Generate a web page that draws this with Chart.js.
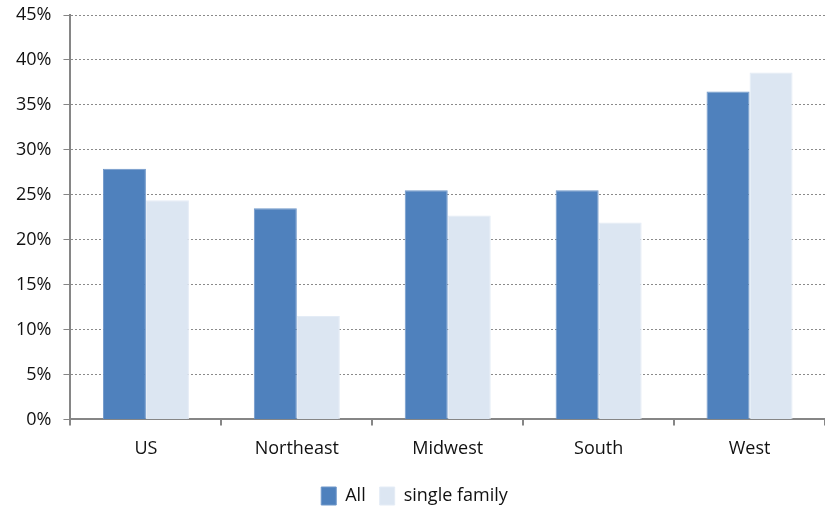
<!DOCTYPE html>
<html>
<head>
<meta charset="utf-8">
<script src="https://cdn.jsdelivr.net/npm/chart.js@4.4.0/dist/chart.umd.min.js"></script>
<style>
  html, body { margin: 0; padding: 0; background: #fff; }
  #wrap { width: 825px; height: 507px; }
</style>
</head>
<body>
<div id="wrap"><canvas id="barChart"></canvas></div>
<script>
const regions = ['US', 'Northeast', 'Midwest', 'South', 'West'];
const allValues = [27.9, 23.5, 25.5, 25.5, 36.5];
const singleFamilyValues = [24.4, 11.5, 22.7, 21.9, 38.6];
const yTicks = [0, 5, 10, 15, 20, 25, 30, 35, 40, 45];

const axisGray = '#868686';
const font = { family: 'Open Sans', size: 18 };

const ctx = document.getElementById('barChart').getContext('2d');
new Chart(ctx, {
    type: 'bar',
    data: {
        labels: regions,
        datasets: [
            {
                label: 'All',
                data: allValues,
                backgroundColor: '#4F81BD',
                borderColor: '#6F97C9',
                borderWidth: 1,
                categoryPercentage: 0.57,
                barPercentage: 1.0
            },
            {
                label: 'single family',
                data: singleFamilyValues,
                backgroundColor: '#DCE6F2',
                borderColor: '#E4ECF6',
                borderWidth: 1,
                categoryPercentage: 0.57,
                barPercentage: 1.0
            }
        ]
    },
    options: {
        responsive: true,
        maintainAspectRatio: false,
        animation: false,
        layout: { padding: { top: 15, right: 0, left: 4, bottom: -8 } },
        scales: {
            x: {
                grid: {
                    offset: true,
                    drawOnChartArea: false,
                    drawTicks: true,
                    tickLength: 6,
                    color: axisGray,
                    lineWidth: 2
                },
                border: { color: axisGray, width: 2 },
                ticks: { color: '#111', font: font, padding: 13 }
            },
            y: {
                min: 0,
                max: 45,
                afterBuildTicks: axis => {
                    axis.ticks = yTicks.map(v => ({ value: v }));
                },
                afterFit: axis => {
                    axis.paddingTop = 0;
                    axis.paddingBottom = 0;
                },
                grid: {
                    color: '#8a8a8a',
                    lineWidth: 1,
                    tickLength: 7,
                    tickColor: axisGray,
                    tickBorderDash: [],
                    drawTicks: true
                },
                border: { color: axisGray, width: 2, dash: [2, 2] },
                ticks: {
                    color: '#111',
                    font: font,
                    padding: 12,
                    callback: v => v + '%'
                }
            }
        },
        plugins: {
            legend: {
                position: 'bottom',
                labels: {
                    color: '#111',
                    font: font,
                    boxWidth: 15,
                    boxHeight: 18,
                    padding: 14
                }
            },
            tooltip: { enabled: false }
        }
    }
});
</script>
</body>
</html>
